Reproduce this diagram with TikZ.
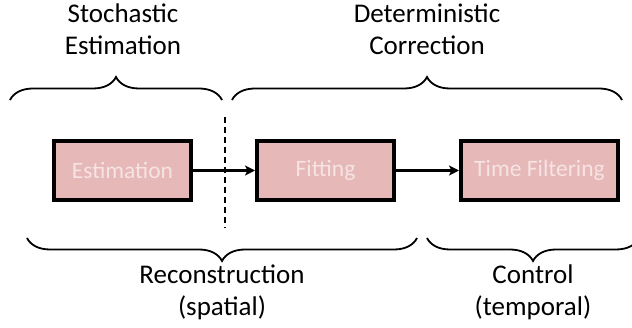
\documentclass[tikz,border=0pt]{standalone}
\usepackage{fontspec}
\setmainfont{Carlito}
\usetikzlibrary{arrows.meta,decorations.pathreplacing}
\definecolor{boxpink}{HTML}{E6B8B7}
\definecolor{boxtext}{HTML}{F6E4E4}
\begin{document}
\begin{tikzpicture}[x=1pt, y=-1pt,
  stage/.style={draw, line width=4pt, fill=boxpink, text=boxtext, minimum height=59pt,
    font=\fontsize{23.5}{28}\selectfont},
  caption/.style={align=center, font=\fontsize{27}{32}\selectfont},
  curly/.style={decorate, decoration={brace, amplitude=23pt}, line width=1.8pt}]
  \useasboundingbox (0,0) rectangle (632,328);
  % stages
  \node[stage, minimum width=137pt] (est)  at (122.5,170.5) {Estimation};
  \node[stage, minimum width=137pt] (fit)  at (325.5,170.5) {Fitting};
  \node[stage, minimum width=157pt] (filt) at (539.5,170.5) {Time Filtering};
  \draw [line width=3pt, -{Stealth[length=10pt, width=10pt, inset=2.5pt]}] (est) -- (fit);
  \draw [line width=3pt, -{Stealth[length=10pt, width=10pt, inset=2.5pt]}] (fit) -- (filt);
  % split between estimation and correction
  \coordinate (cuttop) at (225,117);
  \coordinate (cutbot) at (225,228);
  \draw [line width=1.5pt, dash pattern=on 6pt off 4pt] (cuttop) -- (cutbot);
  % braces above
  \coordinate (a1) at (10,100);  \coordinate (a2) at (222,100);
  \coordinate (b1) at (232,100); \coordinate (b2) at (622,100);
  \draw [curly] (a1) -- (a2);
  \draw [curly] (b1) -- (b2);
  \node[caption] (stoch)  at (123,29) {Stochastic\\Estimation};
  \node[caption] (determ) at (427,29) {Deterministic\\Correction};
  % braces below
  \coordinate (c1) at (27,238);  \coordinate (c2) at (417,238);
  \coordinate (d1) at (427,238); \coordinate (d2) at (639,238);
  \draw [curly] (c2) -- (c1);
  \draw [curly] (d2) -- (d1);
  \node[caption] (recon) at (222,292) {Reconstruction\\(spatial)};
  \node[caption] (ctrl)  at (533,292) {Control\\(temporal)};
\end{tikzpicture}
\end{document}
